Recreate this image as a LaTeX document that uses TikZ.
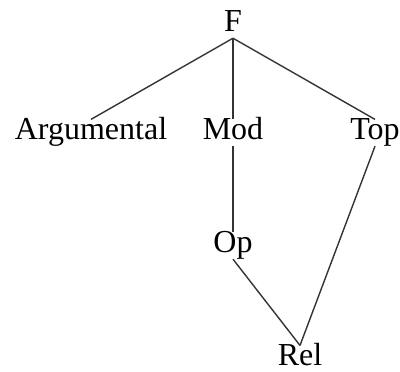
\documentclass[tikz,border=0pt]{standalone}
\usepackage{fontspec}
\setmainfont{Liberation Serif}
\usetikzlibrary{positioning}

\begin{document}
\begin{tikzpicture}[
    every node/.style={
      inner sep=0pt,
      font=\fontsize{16pt}{19pt}\selectfont,
      text height=1em,
      text depth=0.3em
    },
    grow=down,
    sibling distance=71pt,
    level 1/.style={level distance=54pt},
    level 2/.style={level distance=56.5pt},
    level 3/.style={level distance=56.5pt},
    edge from parent/.style={draw, line width=0.7pt, black!80},
    edge from parent path={(\tikzparentnode.south) -- (\tikzchildnode.north)},
    link/.style={draw, line width=0.7pt, black!80}
  ]
  \useasboundingbox (0,0) rectangle (200pt,185.5pt);

  % Root
  \node (f) at (116.5pt,173.1pt) {F}
    child {
      node (arg) {Argumental}
    }
    child {
      node (mod) {Mod}
        child {
          node (op) {Op}
            child[xshift=33.5pt] {
              node (rel) {Rel}
            }
        }
    }
    child {
      node (top) {Top}
    };

  % second parent of Rel
  \path[link] (top.south) -- (rel.north);

\end{tikzpicture}
\end{document}
